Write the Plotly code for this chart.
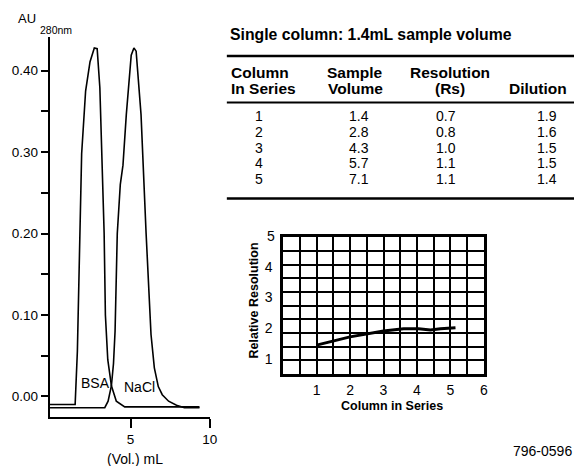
import plotly.graph_objects as go

W, H = 582, 466

# ---------------- data ----------------
bsa_vol = [-0.1, 1.5, 1.64, 1.81, 1.91, 2.16, 2.44, 2.71, 2.89, 3.06, 3.33, 3.41, 3.56, 3.79, 4.1, 4.63, 9.35]
bsa_au = [-0.010, -0.010, 0.055, 0.20, 0.298, 0.375, 0.411, 0.428, 0.427, 0.379, 0.20, 0.10, 0.045, 0.013, -0.006, -0.013, -0.013]

nacl_vol = [-0.1, 3.37, 3.58, 3.79, 3.92, 4.02, 4.16, 4.35, 4.52, 4.73, 5.04, 5.21, 5.35, 5.66, 5.98, 6.29, 6.5, 6.75, 7.0, 7.4, 7.9, 8.4, 9.35]
nacl_au = [-0.014, -0.014, -0.006, 0.013, 0.04, 0.08, 0.20, 0.26, 0.284, 0.346, 0.419, 0.428, 0.424, 0.346, 0.20, 0.076, 0.035, 0.012, 0.002, -0.006, -0.011, -0.014, -0.014]

col_series = ["1", "2", "3", "4", "5"]
sample_volume = ["1.4", "2.8", "4.3", "5.7", "7.1"]
resolution_rs = ["0.7", "0.8", "1.0", "1.1", "1.1"]
dilution = ["1.9", "1.6", "1.5", "1.5", "1.4"]

rel_x = [1.0, 2.0, 3.0, 3.6, 4.05, 4.4, 4.7, 5.15]
rel_y = [1.45, 1.72, 1.91, 1.985, 1.985, 1.94, 1.985, 2.02]

y_ticks_left = [0.00, 0.05, 0.10, 0.15, 0.20, 0.25, 0.30, 0.35, 0.40]
y_ticklabels_left = ["0.00", "", "0.10", "", "0.20", "", "0.30", "", "0.40"]
x_ticks_left = [5, 10]
x_ticks_small = [1, 2, 3, 4, 5, 6]
y_ticks_small = [1, 2, 3, 4]

# ---------------- helpers ----------------
def px(x):
    return x / W

def py(y):
    return 1 - y / H

ARIAL = "Liberation Sans, Arial, Helvetica, sans-serif"

fig = go.Figure()

fig.add_trace(go.Scatter(x=bsa_vol, y=bsa_au, mode="lines",
                         line=dict(color="black", width=1.6), xaxis="x", yaxis="y",
                         showlegend=False, hoverinfo="skip"))
fig.add_trace(go.Scatter(x=nacl_vol, y=nacl_au, mode="lines",
                         line=dict(color="black", width=1.6), xaxis="x", yaxis="y",
                         showlegend=False, hoverinfo="skip"))
fig.add_trace(go.Scatter(x=rel_x, y=rel_y, mode="lines",
                         line=dict(color="black", width=3), xaxis="x2", yaxis="y2",
                         showlegend=False, hoverinfo="skip"))
# empty trace so that the grid-only overlay axis is drawn
fig.add_trace(go.Scatter(x=[], y=[], mode="lines", xaxis="x2", yaxis="y3",
                         showlegend=False, hoverinfo="skip"))

lx0, lx1 = 50.5, 212.7
ly0, ly1 = 37, 417
y_r = (-0.0254, 0.4414)
y2_r = (0.512, 4.958)
sx0, sx1 = 287, 490.7
sy0, sy1 = 237.3, 374

fig.update_layout(
    width=W, height=H,
    margin=dict(l=0, r=0, t=0, b=0),
    paper_bgcolor="white", plot_bgcolor="white",
    font=dict(family=ARIAL, color="black"),
    xaxis=dict(domain=[px(lx0), px(lx1)], range=[-0.1, 10], anchor="y",
               showline=True, linecolor="black", linewidth=2,
               showgrid=False, zeroline=False,
               tickmode="array", tickvals=x_ticks_left, ticktext=[str(v) for v in x_ticks_left],
               ticks="outside", ticklen=9, tickwidth=2, tickcolor="black",
               tickfont=dict(size=13.5, color="black")),
    yaxis=dict(domain=[py(ly1), py(ly0)], range=list(y_r), anchor="x", side="left",
               showline=True, linecolor="black", linewidth=2,
               showgrid=False, zeroline=False,
               tickmode="array", tickvals=y_ticks_left, ticktext=y_ticklabels_left,
               ticks="outside", ticklen=7, tickwidth=2, tickcolor="black",
               tickfont=dict(size=13.5, color="black")),
    xaxis2=dict(domain=[px(sx0), px(sx1)], range=[0, 6], anchor="y2",
                showline=True, mirror=True, linecolor="black", linewidth=2.5,
                zeroline=False,
                tickmode="array", tickvals=x_ticks_small,
                ticktext=[str(v) for v in x_ticks_small],
                ticks="", showgrid=True, gridcolor="black", gridwidth=1.5,
                minor=dict(dtick=0.5, tick0=0, showgrid=True, gridcolor="black", gridwidth=1.5),
                ticklabelstandoff=1,
                tickfont=dict(size=14, color="black")),
    yaxis2=dict(domain=[py(sy1), py(sy0)], range=list(y2_r), anchor="x2",
                showline=True, mirror=True, linecolor="black", linewidth=2.5,
                zeroline=False, showgrid=False,
                tickmode="array", tickvals=y_ticks_small,
                ticktext=[str(v) for v in y_ticks_small],
                ticks="", ticklabelstandoff=5,
                tickfont=dict(size=14, color="black")),
    yaxis3=dict(domain=[py(sy1), py(sy0)], range=[0, 10], anchor="x2", overlaying="y2",
                showline=False, zeroline=False, showticklabels=False, ticks="",
                tickmode="linear", dtick=1, tick0=0, showgrid=True, gridcolor="black", gridwidth=1.5),
)

ann = []

def text(x, y, s, size, bold=False, xanchor="center", angle=0):
    ann.append(dict(x=px(x), y=py(y), xref="paper", yref="paper", text=("<b>%s</b>" % s) if bold else s,
                    showarrow=False, xanchor=xanchor, yanchor="middle", textangle=angle,
                    font=dict(family=ARIAL, size=size, color="black")))

# left chart labels
text(16.5, 18, "AU", 13, xanchor="left")
text(39, 30, "280nm", 10.5, xanchor="left")
text(137, 459, "(Vol.) mL", 14)
text(97, 383, "BSA", 14)
text(141, 387, "NaCl", 14)

# title and table
HF = 15.5
text(231, 35, "Single column: 1.4mL sample volume", 15.8, bold=True, xanchor="left")
text(232, 72, "Column", HF, bold=True, xanchor="left")
text(232, 88, "In Series", HF, bold=True, xanchor="left")
text(360, 72, "Sample", HF, bold=True)
text(360, 88, "Volume", HF, bold=True)
text(456, 72, "Resolution", HF, bold=True)
text(456, 88, "(Rs)", HF, bold=True)
text(545, 88, "Dilution", HF, bold=True)

col_centers = [263, 364, 452, 555]
for i in range(len(col_series)):
    yy = 115.5 + 16 * i
    for cx, vals in zip(col_centers, [col_series, sample_volume, resolution_rs, dilution]):
        text(cx, yy, vals[i], 14)

# small chart labels
y5 = sy1 - (5 - y2_r[0]) / (y2_r[1] - y2_r[0]) * (sy1 - sy0)
text(275, y5, "5", 14)
text(258, 300, "Relative Resolution", 12.5, bold=True, angle=-90)
text(397, 406, "Column in Series", 12.5, bold=True)

text(582, 451, "796-0596", 14, xanchor="right")

fig.update_layout(annotations=ann)

# table rules
rules = [(56, 2.5), (102.5, 2), (198.5, 2.5)]
fig.update_layout(shapes=[dict(type="line", xref="paper", yref="paper",
                               x0=px(230), x1=1.0, y0=py(yy), y1=py(yy),
                               line=dict(color="black", width=w)) for yy, w in rules])

fig.write_html("out.html", config={"displayModeBar": False},
               post_script="document.body.style.margin='0';document.body.style.padding='0';"
                           "document.body.style.overflow='hidden';")
